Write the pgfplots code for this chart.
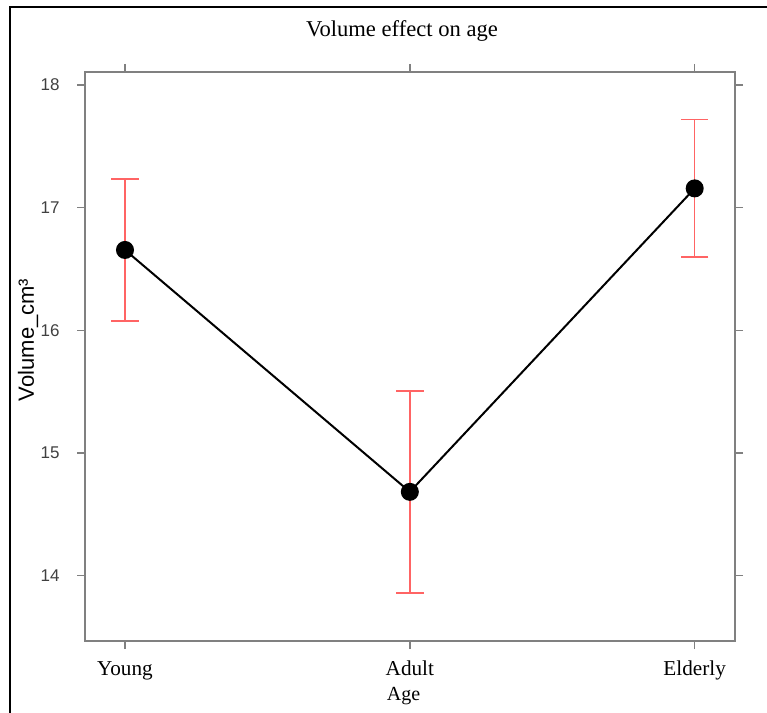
\documentclass[border=0pt]{standalone}
\usepackage{fontspec}
\setmainfont{Liberation Serif}
\setsansfont{Liberation Sans}
\usepackage{pgfplots}
\pgfplotsset{compat=1.18}
\definecolor{ebred}{HTML}{FF6464}
\definecolor{axgray}{HTML}{808080}

\begin{document}
\begin{tikzpicture}
% page size: 767 x 713 px at 0.5bp per px
\useasboundingbox (0,0) rectangle (383.5bp,356.5bp);
\draw[line width=1bp] (5bp,0) -- (5bp,353bp) -- (383.5bp,353bp);

\begin{axis}[
  at={(42.5bp,36bp)}, anchor=south west,
  width=325bp, height=284.5bp, scale only axis,
  xmin=-0.1404, xmax=2.1415, ymin=13.467, ymax=18.106,
  xtick={0,1,2}, xticklabels={Young,Adult,Elderly},
  ytick={14,15,16,17,18},
  tick align=outside,
  major tick length=4bp,
  axis line style={axgray, line width=0.7bp},
  every tick/.style={axgray, line width=0.7bp},
  xticklabel style={font=\fontsize{10.6bp}{12bp}\selectfont, anchor=base, yshift=-13bp},
  yticklabel style={font=\sffamily\fontsize{8.5bp}{10bp}\selectfont, anchor=east, inner sep=0pt, xshift=-8.5bp, text=black!75},
  /pgf/number format/assume math mode=true,
  clip=false,
]
  % 95% intervals
  \addplot[draw=none, mark=none, forget plot,
    error bars/.cd, y dir=both, y explicit,
    error bar style={ebred, line width=0.75bp},
    error mark options={ebred, line width=0.75bp, mark size=6.85bp, rotate=90}]
    coordinates {
      (0,16.655) +- (0,0.580)
      (1,14.683) +- (0,0.824)
      (2,17.157) +- (0,0.560)
    };
  % group means
  \addplot[black, line width=1bp, mark=*, mark size=4bp, mark options={black}]
    coordinates {
      (0,16.655)
      (1,14.683)
      (2,17.157)
    };
\end{axis}

\node[anchor=base, font=\fontsize{11.3bp}{13bp}\selectfont] at (201bp,338bp) {Volume effect on age};
\node[anchor=base, font=\fontsize{10bp}{12bp}\selectfont] at (201.75bp,6.5bp) {Age};
\node[rotate=90, font=\sffamily\fontsize{11bp}{13bp}\selectfont] at (14bp,186.5bp) {Volume\_cm³};
\end{tikzpicture}
\end{document}
